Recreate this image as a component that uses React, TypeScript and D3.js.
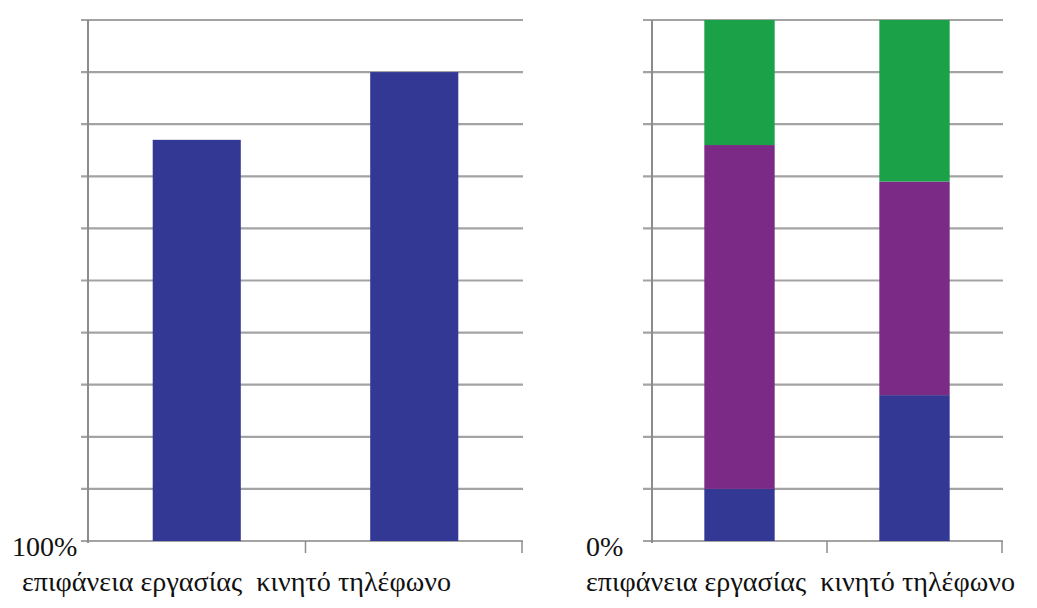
import React from "react";
import * as d3 from "d3";

const categories = ["επιφάνεια εργασίας", "κινητό τηλέφωνο"];
const leftValues = [77, 90];
const seriesNames = ["blue", "purple", "green"];
const blueValues = [10, 28];
const purpleValues = [66, 41];
const greenValues = [24, 31];
const seriesColors = ["#343895", "#7b2a86", "#1ba148"];
const leftAxisLabel = "100%";
const rightAxisLabel = "0%";

const W = 1037;
const H = 608;
const top = 20;
const bottom = 541;
const gridColor = "#a3a3a3";
const axisColor = "#8c8c8c";
const font = "Liberation Serif";

export default function App() {
  const y = d3.scaleLinear().domain([0, 100]).range([bottom, top]);
  const ticks = y.ticks(10);

  const lx = d3.scaleBand().domain(categories).range([88, 523]).paddingInner(0.595).paddingOuter(0.2975);
  const rx = d3.scaleBand().domain(categories).range([652, 1002]).paddingInner(0.598).paddingOuter(0.299);

  const stackData = categories.map((c, i) => ({
    cat: c,
    blue: blueValues[i],
    purple: purpleValues[i],
    green: greenValues[i],
  }));
  const stacked = d3.stack<any>().keys(seriesNames)(stackData);

  const grid = (xa: number, xb: number, axisX: number, endX: number, midTick: number) => (
    <g>
      {ticks.map((t) => (
        <line key={t} x1={xa} x2={xb} y1={y(t)} y2={y(t)} stroke={gridColor} strokeWidth={2.2} />
      ))}
      <line x1={axisX} x2={axisX} y1={top} y2={bottom + 2} stroke={axisColor} strokeWidth={2} />
      <line x1={midTick} x2={midTick} y1={bottom} y2={bottom + 12} stroke={axisColor} strokeWidth={1.5} />
      <line x1={endX} x2={endX} y1={bottom} y2={bottom + 12} stroke={axisColor} strokeWidth={1.5} />
    </g>
  );

  const lStep = lx.step();
  const rStep = rx.step();
  const txt = { fontFamily: font, fill: "#111", whiteSpace: "pre" } as any;

  return (
    <svg width={W} height={H} style={{ position: "absolute", left: 0, top: 0, background: "#fff" }}>
      {grid(81, 523, 88, 522, 88 + lStep)}
      {categories.map((c, i) => (
        <rect key={c} x={lx(c)} width={lx.bandwidth()} y={y(leftValues[i])} height={bottom - y(leftValues[i])} fill={seriesColors[0]} />
      ))}
      <text x={12} y={556} fontSize={28} style={txt}>{leftAxisLabel}</text>
      <text x={22} y={591} fontSize={28} style={txt} textLength={429} lengthAdjust="spacingAndGlyphs">
        {categories.join("  ")}
      </text>

      {grid(643, 1003, 652, 1002, 652 + rStep)}
      {stacked.map((s, si) => (
        <g key={s.key}>
          {s.map((d: any, i: number) => (
            <rect key={i} x={rx(categories[i])} width={rx.bandwidth()} y={y(d[1])} height={y(d[0]) - y(d[1])} fill={seriesColors[si]} />
          ))}
        </g>
      ))}
      <text x={586} y={556} fontSize={28} style={txt}>{rightAxisLabel}</text>
      <text x={586} y={591} fontSize={28} style={txt} textLength={429} lengthAdjust="spacingAndGlyphs">
        {categories.join("  ")}
      </text>
    </svg>
  );
}
